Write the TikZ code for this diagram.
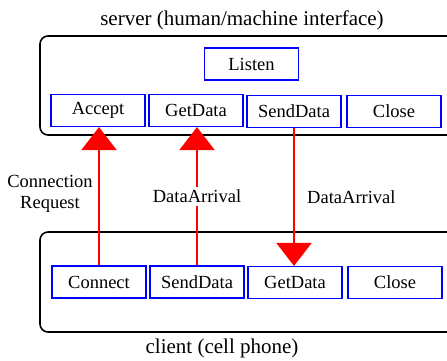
\documentclass[tikz,border=0pt]{standalone}
\usepackage{fontspec}
\setmainfont{Liberation Serif}
\usetikzlibrary{arrows.meta}
\begin{document}
\begin{tikzpicture}[x=1pt,y=-1pt,
	sock/.style={draw=blue, line width=1.1pt, minimum width=94pt, minimum height=32pt, inner sep=0pt, font=\fontsize{18.5}{20}\selectfont},
	host/.style={draw=black, line width=1.6pt, rounded corners=8pt},
	title/.style={font=\fontsize{21}{24}\selectfont},
	lbl/.style={font=\fontsize{18.5}{21}\selectfont},
	evt/.style={draw=red, line width=1.8pt, -{Triangle[width=35pt, length=23pt]}}]
	\clip (0,0) rectangle (447,360);
	% hosts
	\draw[host] (40,36) rectangle (475,135);
	\draw[host] (40,232) rectangle (475,332);
	\node (srv) at (242,20)	[title]	{server (human/machine interface)};
	\node (cli) at (222,348)	[title]	{client (cell phone)};
	% server side
	\node (Listen) at (251.5,64)	[sock]	{Listen};
	\node (Accept) at (98,110.5)	[sock]	{Accept};
	\node (SGet) at (196,110.5)	[sock]	{GetData};
	\node (SSend) at (294,111.5)	[sock]	{SendData};
	\node (SClose) at (394,111.5)	[sock]	{Close};
	% client side
	\node (Connect) at (99,282)	[sock]	{Connect};
	\node (CSend) at (197,282)	[sock]	{SendData};
	\node (CGet) at (295,282.5)	[sock]	{GetData};
	\node (CClose) at (395,282.5)	[sock]	{Close};
	% events
	\draw[evt] (Connect.north) -- (Connect.north |- Accept.south);
	\draw[evt] (CSend.north) -- (CSend.north |- SGet.south)
		node[midway, lbl, fill=white, inner sep=3pt] (arr1) {DataArrival};
	\draw[evt] (SSend.south) -- (SSend.south |- CGet.north)
		node[midway, lbl, right=9pt] (arr2) {DataArrival};
	\node (req) at (50,194)	[lbl, align=center]	{Connection\\Request};
\end{tikzpicture}
\end{document}
